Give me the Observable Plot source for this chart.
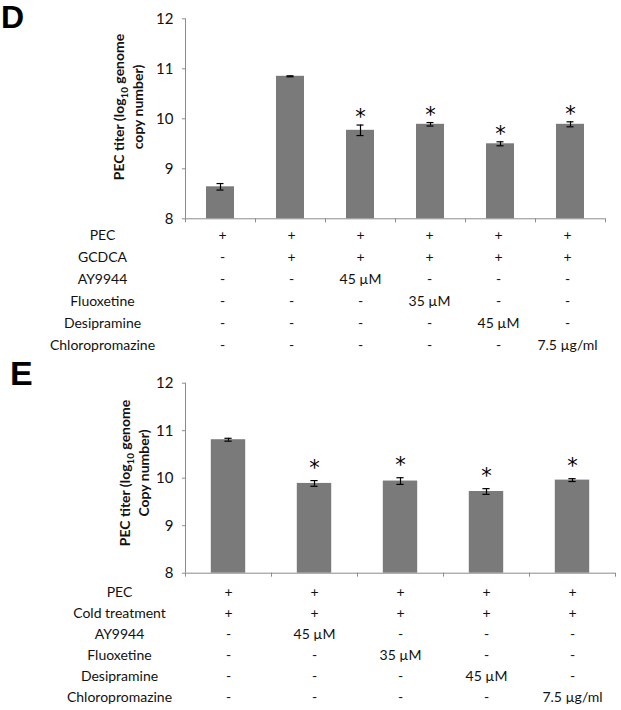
<!DOCTYPE html>
<html><head><meta charset="utf-8">
<script src="https://cdn.jsdelivr.net/npm/d3@7"></script>
<script src="https://cdn.jsdelivr.net/npm/@observablehq/plot@0.6"></script>
<style>
body{margin:0;background:#fff}
#fig{position:relative;width:621px;height:710px;font-family:Lato,sans-serif;color:#111;overflow:hidden;background:#fff}
.abs{position:absolute;left:0}
.letter{position:absolute;font-family:"Liberation Sans",Arial,sans-serif;font-weight:bold;line-height:1;color:#000}
.ytitle{position:absolute;transform:translate(-50%,-50%) rotate(-90deg);font-weight:bold;font-size:14px;line-height:19px;text-align:center;white-space:nowrap;color:#111}
.ytitle sub{font-size:0.7em;line-height:0}
</style>
</head><body>
<div id="fig">
  <div class="letter" style="left:1px;top:1px;font-size:32px">D</div>
  <div class="letter" style="left:10px;top:356px;font-size:34px">E</div>
  <div class="ytitle" style="left:127.5px;top:107px">PEC titer (log<sub>10</sub> genome<br>copy number)</div>
  <div class="ytitle" style="left:134px;top:473px">PEC titer (log<sub>10</sub> genome<br>Copy number)</div>
</div>
<script>
// ---- Panel D data ----
const dGroups = ["PEC", "PEC+GCDCA", "+AY9944", "+Fluoxetine", "+Desipramine", "+Chloropromazine"];
const dMeans = [8.64, 10.85, 9.77, 9.89, 9.50, 9.89];
const dErrors = [0.065, 0.01, 0.105, 0.035, 0.04, 0.05];
const dSignificant = [false, false, true, true, true, true];
const dRowLabels = ["PEC", "GCDCA", "AY9944", "Fluoxetine", "Desipramine", "Chloropromazine"];
const dCells = [
  ["+", "+", "+", "+", "+", "+"],
  ["-", "+", "+", "+", "+", "+"],
  ["-", "-", "45 µM", "-", "-", "-"],
  ["-", "-", "-", "35 µM", "-", "-"],
  ["-", "-", "-", "-", "45 µM", "-"],
  ["-", "-", "-", "-", "-", "7.5 µg/ml"]
];

// ---- Panel E data ----
const eGroups = ["PEC+Cold", "+AY9944", "+Fluoxetine", "+Desipramine", "+Chloropromazine"];
const eMeans = [10.81, 9.89, 9.94, 9.72, 9.96];
const eErrors = [0.03, 0.06, 0.07, 0.06, 0.03];
const eSignificant = [false, true, true, true, true];
const eRowLabels = ["PEC", "Cold treatment", "AY9944", "Fluoxetine", "Desipramine", "Chloropromazine"];
const eCells = [
  ["+", "+", "+", "+", "+"],
  ["+", "+", "+", "+", "+"],
  ["-", "45 µM", "-", "-", "-"],
  ["-", "-", "35 µM", "-", "-"],
  ["-", "-", "-", "45 µM", "-"],
  ["-", "-", "-", "-", "7.5 µg/ml"]
];

const yTicks = [8, 9, 10, 11, 12];
const axisGray = "#8c8c8c";
const barGray = "#7a7a7a";

function chart(groups, means, errs, sig, o) {
  const n = groups.length;
  const data = means.map((m, i) => ({i, group: groups[i], mean: m, err: errs[i], sig: sig[i]}));
  const caps = data.flatMap(d => [{i: d.i, y: d.mean - d.err}, {i: d.i, y: d.mean + d.err}]);
  return Plot.plot({
    width: 621, height: o.height,
    marginLeft: 185, marginRight: o.marginRight, marginTop: o.marginTop, marginBottom: o.marginBottom,
    x: {domain: [0, n]},
    y: {domain: [8, 12]},
    style: {fontFamily: "Lato, sans-serif", fontSize: "15px", color: "#111", background: "transparent", overflow: "visible"},
    marks: [
      Plot.rectY(data, {x1: d => d.i + 0.3, x2: d => d.i + 0.7, y1: 8, y2: "mean", fill: barGray}),
      Plot.ruleX([0], {stroke: axisGray}),
      Plot.ruleY([8], {stroke: axisGray}),
      Plot.axisY({ticks: yTicks, tickFormat: d => String(d), tickSize: 3, tickPadding: 9, stroke: axisGray, label: null}),
      Plot.axisX({ticks: d3.range(0, n + 1), tickSize: 4, tickFormat: () => "", stroke: axisGray, label: null}),
      Plot.ruleX(data, {x: d => d.i + 0.5, y1: d => d.mean - d.err, y2: d => d.mean + d.err, stroke: "#000", strokeWidth: 1.2}),
      Plot.ruleY(caps, {y: "y", x1: d => d.i + 0.5 - o.capU, x2: d => d.i + 0.5 + o.capU, stroke: "#000", strokeWidth: 1.2}),
      Plot.text(data.filter(d => d.sig), {x: d => d.i + 0.5, y: d => d.mean + d.err, text: () => "*", dy: o.starDy, fontSize: 21, fontFamily: "DejaVu Sans, sans-serif", lineAnchor: "bottom", fill: "#000"})
    ]
  });
}

function table(labels, cells, o) {
  const data = cells.flatMap((row, r) => row.map((v, c) => ({row: labels[r], col: c, v})));
  return Plot.plot({
    width: 621, height: o.height,
    marginLeft: 0, marginRight: 0, marginTop: o.marginTop, marginBottom: o.marginBottom,
    x: {type: "point", domain: d3.range(cells[0].length), range: o.xRange, padding: 0, axis: null},
    y: {type: "point", domain: labels, padding: 0, axis: null},
    style: {fontFamily: "Lato, sans-serif", fontSize: "14px", color: "#111", background: "transparent", overflow: "visible"},
    marks: [
      Plot.text(labels, {y: d => d, text: d => d, frameAnchor: "left", dx: o.labelX, textAnchor: "middle", fill: "#111"}),
      Plot.text(data, {x: "col", y: "row", text: "v", fill: "#111"})
    ]
  });
}

function place(el, top) {
  const wrap = document.createElement("div");
  wrap.className = "abs";
  wrap.style.top = top + "px";
  wrap.appendChild(el);
  document.getElementById("fig").appendChild(wrap);
}

place(chart(dGroups, dMeans, dErrors, dSignificant, {height: 230, marginTop: 18.3, marginBottom: 11.7, marginRight: 16, capU: 0.05, starDy: -1}), 0);
place(table(dRowLabels, dCells, {height: 133, marginTop: 13, marginBottom: 10, xRange: [221, 567], labelX: 102}), 222);
place(chart(eGroups, eMeans, eErrors, eSignificant, {height: 215, marginTop: 12.7, marginBottom: 12.3, marginRight: 6, capU: 0.042, starDy: -6}), 370);
place(table(eRowLabels, eCells, {height: 130, marginTop: 12, marginBottom: 9.7, xRange: [228, 572], labelX: 119}), 578);
</script>
</body></html>
